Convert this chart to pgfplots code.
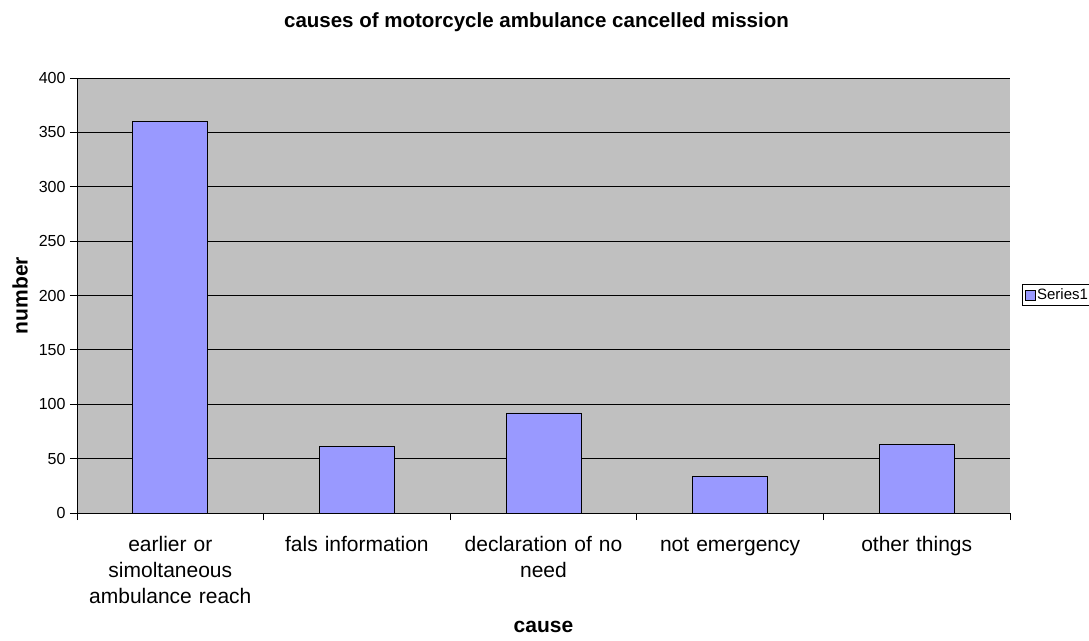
\documentclass[border=0pt]{standalone}
\usepackage{pgfplots}
\pgfplotsset{compat=1.18}
\usepackage{fontspec}
\setmainfont{Liberation Sans}
\definecolor{plotbg}{HTML}{C0C0C0}
\definecolor{barfill}{HTML}{9999FF}
\begin{document}
\begin{tikzpicture}
\begin{axis}[
  at={(77pt,127pt)}, anchor=south west,
  scale only axis, width=933pt, height=435pt,
  xmin=-0.5, xmax=4.5, ymin=0, ymax=400,
  axis background/.style={fill=plotbg},
  axis x line*=bottom, axis y line*=left,
  axis line style={black, line width=0.8pt},
  ytick={0,50,...,400},
  ymajorgrids, grid style={black, line width=0.8pt},
  xtick={-0.5,0.5,1.5,2.5,3.5,4.5},
  x tick label as interval,
  xticklabels={{\strut earlier or\\simoltaneous\\ambulance reach},{\strut fals information},{\strut declaration of no\\need},{\strut not emergency},{\strut other things}},
  tick align=outside, major tick length=7pt,
  tick style={black, line width=0.8pt},
  /pgf/number format/assume math mode=true,
  yticklabel style={font=\fontsize{16}{18}\selectfont, xshift=-1pt},
  xticklabel style={font=\fontsize{21}{26}\selectfont, align=center, text width=190pt, yshift=-10pt},
  title={\textbf{causes of motorcycle ambulance cancelled mission}},
  every axis title shift=0pt,
  title style={at={(axis description cs:0.4925,1.115)}, anchor=base, font=\fontsize{20.5}{22}\selectfont},
  xlabel={\textbf{cause}},
  xlabel style={at={(axis description cs:0.5,-0.274)}, anchor=base, font=\fontsize{21}{23}\selectfont, inner sep=0pt},
  ylabel={\textbf{number}},
  ylabel style={at={(axis description cs:-0.061,0.5)}, anchor=center, rotate=0, font=\fontsize{21}{23}\selectfont},
  legend style={at={(1.013,0.501)}, anchor=west, draw=black, line width=0.8pt, fill=white, font=\fontsize{15}{17}\selectfont, inner sep=2pt, legend cell align=left},
  legend image code/.code={\draw[fill=barfill, draw=black, line width=0.6pt] (0pt,-5pt) rectangle (10pt,5pt);},
  clip=false,
]
\addplot[ybar, bar width=75pt, fill=barfill, draw=black, line width=0.8pt] coordinates {
  (0,360) (1,61) (2,92) (3,34) (4,63)
};
\addlegendentry{Series1}
\end{axis}
\pgfresetboundingbox
\path[use as bounding box] (0,0) rectangle (1089pt,640pt);
\end{tikzpicture}
\end{document}
